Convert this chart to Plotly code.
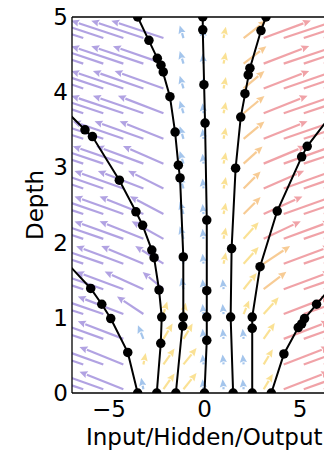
import math
import plotly.graph_objects as go

# ---------------- layout constants ----------------
W, H = 324, 450
ML, MR, MT, MB = 72, 0, 17, 57
X_RANGE = [-6.94, 6.26]
T_RANGE = [0, 5]
FONT = "DejaVu Sans"

x_ticks = [-5, 0, 5]
x_ticktext = ["−5", "0", "5"]
t_ticks = [0, 1, 2, 3, 4, 5]

# ---------------- vector field ----------------
field_x = [-7.4, -6.35, -5.3, -4.25, -3.2, -2.15, -1.1, -0.05, 1.0, 2.05, 3.1, 4.15, 5.2, 6.25, 7.3]
field_t = [0.05, 0.38, 0.72, 1.05, 1.38, 1.72, 2.05, 2.38, 2.72, 3.05, 3.38, 3.72, 4.05, 4.38, 4.72]
# horizontal component per row (bottom -> top), per column (left -> right)
field_u = [
    [-3.0, -3.0, -2.8, -2.5, -0.2, 0.7, 0.8, -0.1, -0.1, -0.1, 0.6, 2.6, 2.8, 3.0, 3.0],
    [-3.0, -3.0, -2.8, -2.5, 0.2, 0.7, 0.8, -0.1, -0.1, -0.1, 0.6, 2.6, 2.8, 3.0, 3.0],
    [-3.0, -3.0, -2.8, -2.6, -0.4, 0.6, 0.6, -0.1, -0.1, -0.1, 0.7, 2.6, 2.8, 3.0, 3.0],
    [-3.0, -3.0, -2.9, -2.6, -1.5, 0.3, 0.2, -0.1, -0.1, 0.4, 0.9, 2.6, 2.8, 3.0, 3.0],
    [-3.0, -3.0, -2.9, -2.7, -2.2, -1.2, -0.2, -0.1, -0.1, 0.8, 1.3, 2.7, 2.9, 3.0, 3.0],
    [-3.0, -3.0, -2.9, -2.7, -2.4, -1.6, -0.2, -0.1, 0.2, 0.9, 1.5, 2.7, 2.9, 3.0, 3.0],
    [-3.0, -3.0, -2.9, -2.8, -2.5, -1.8, -0.3, -0.1, 0.2, 0.9, 2.1, 2.7, 2.9, 3.0, 3.0],
    [-3.0, -3.0, -2.9, -2.8, -2.5, -1.9, -0.3, -0.1, 0.2, 1.0, 2.2, 2.8, 2.9, 3.0, 3.0],
    [-3.0, -3.0, -2.9, -2.8, -2.6, -2.0, -0.3, -0.1, 0.2, 1.0, 2.3, 2.8, 2.9, 3.0, 3.0],
    [-3.0, -3.0, -3.0, -2.9, -2.7, -2.3, -0.3, -0.1, 0.2, 1.1, 2.4, 2.8, 3.0, 3.0, 3.0],
    [-3.0, -3.0, -3.0, -2.9, -2.8, -2.5, -0.3, -0.1, 0.2, 1.2, 2.5, 2.9, 3.0, 3.0, 3.0],
    [-3.0, -3.0, -3.0, -3.0, -2.9, -2.6, -0.3, -0.1, 0.2, 1.2, 2.5, 2.9, 3.0, 3.0, 3.0],
    [-3.0, -3.0, -3.0, -3.0, -2.9, -2.8, -0.3, -0.1, 0.2, 1.2, 2.6, 2.9, 3.0, 3.0, 3.0],
    [-3.0, -3.0, -3.0, -3.0, -3.0, -2.9, -0.3, -0.1, 0.2, 1.3, 2.6, 3.0, 3.0, 3.0, 3.0],
    [-3.0, -3.0, -3.0, -3.0, -3.0, -3.0, -0.3, -0.1, 0.2, 1.3, 2.7, 3.0, 3.0, 3.0, 3.0],
]

# ---------------- trajectories ----------------
traj_a_x = [-3.5, -4.02, -4.91, -5.38, -5.96, -7.5]
traj_a_t = [0.0, 0.54, 0.99, 1.18, 1.39, 1.81]
traj_b_x = [-2.5, -2.29, -2.24, -2.38, -2.64, -2.76, -3.24, -3.59, -4.46, -5.87, -6.26, -7.5]
traj_b_t = [0.0, 0.66, 1.01, 1.37, 1.80, 1.90, 2.23, 2.41, 2.83, 3.41, 3.50, 3.81]
traj_c_x = [-1.5, -1.14, -1.11, -1.11, -1.28, -1.37, -1.54, -1.81, -2.16, -2.28, -2.47, -2.91, -3.5]
traj_c_t = [0.0, 0.89, 1.01, 1.81, 2.86, 3.03, 3.47, 3.94, 4.27, 4.36, 4.45, 4.69, 5.0]
traj_d_x = [0.0, 0.12, 0.12, 0.12, 0.12, 0.03, -0.03, -0.09, -0.09]
traj_d_t = [0.0, 0.70, 1.01, 1.36, 2.30, 3.59, 4.10, 4.83, 5.0]
traj_e_x = [1.5, 1.37, 1.42, 1.63, 1.90, 2.12, 2.29, 2.38, 2.96, 3.22]
traj_e_t = [0.0, 1.01, 1.92, 2.99, 3.67, 3.98, 4.23, 4.32, 4.82, 5.0]
traj_f_x = [2.5, 2.50, 2.50, 2.91, 3.81, 5.09, 5.38, 7.4]
traj_f_t = [0.0, 0.86, 1.01, 1.68, 2.42, 3.14, 3.28, 3.95]
traj_g_x = [3.5, 4.16, 4.91, 5.09, 5.24, 5.87, 7.4]
traj_g_t = [0.0, 0.52, 0.87, 0.92, 0.99, 1.18, 1.64]

trajectories = [
    (traj_a_x, traj_a_t), (traj_b_x, traj_b_t), (traj_c_x, traj_c_t),
    (traj_d_x, traj_d_t), (traj_e_x, traj_e_t), (traj_f_x, traj_f_t),
    (traj_g_x, traj_g_t),
]

# ---------------- styles ----------------
COLORS = {
    "purple": "rgba(120,95,205,0.58)",
    "blue": "rgba(90,150,220,0.55)",
    "yellow": "rgba(245,200,60,0.55)",
    "orange": "rgba(240,160,60,0.55)",
    "red": "rgba(228,85,95,0.55)",
}


def colour_of(u):
    if u <= -1.0:
        return "purple"
    if u <= 0.0:
        return "blue"
    if u <= 0.9:
        return "yellow"
    if u <= 1.8:
        return "orange"
    return "red"


plot_w = W - ML - MR
plot_h = H - MT - MB
sx = plot_w / (X_RANGE[1] - X_RANGE[0])
sy = plot_h / (T_RANGE[1] - T_RANGE[0])

LEN_BASE = 8.5    # px for a zero-horizontal arrow
LEN_PER_U = 15.5  # extra px per unit of |u|
HEAD_L = 8.0
HEAD_W = 3.6

shafts = {k: ([], []) for k in COLORS}
heads = {k: ([], []) for k in COLORS}

for i, t0 in enumerate(field_t):
    for j, x0 in enumerate(field_x):
        u = field_u[i][j]
        n = math.hypot(u, 1.0)
        L = LEN_BASE + LEN_PER_U * abs(u)
        ux, uy = u / n, 1.0 / n
        px_, py_ = -uy, ux
        tip = (L * ux, L * uy)
        base = (tip[0] - HEAD_L * ux, tip[1] - HEAD_L * uy)
        notch = (tip[0] - 0.85 * HEAD_L * ux, tip[1] - 0.85 * HEAD_L * uy)
        left = (base[0] + HEAD_W * px_, base[1] + HEAD_W * py_)
        right = (base[0] - HEAD_W * px_, base[1] - HEAD_W * py_)

        def d(p):
            return x0 + p[0] / sx, t0 + p[1] / sy

        c = colour_of(u)
        sxs, sts = shafts[c]
        a = d((0.0, 0.0))
        b = d(base)
        sxs += [a[0], b[0], None]
        sts += [a[1], b[1], None]
        hxs, hts = heads[c]
        for p in (tip, left, notch, right, tip):
            q = d(p)
            hxs.append(q[0])
            hts.append(q[1])
        hxs.append(None)
        hts.append(None)

fig = go.Figure()

for c in COLORS:
    xs, ts = shafts[c]
    if xs:
        fig.add_trace(go.Scatter(x=xs, y=ts, mode="lines",
                                 line=dict(color=COLORS[c], width=2.2),
                                 hoverinfo="skip", showlegend=False))
    xs, ts = heads[c]
    if xs:
        fig.add_trace(go.Scatter(x=xs, y=ts, mode="lines", fill="toself",
                                 fillcolor=COLORS[c], line=dict(width=0, color=COLORS[c]),
                                 hoverinfo="skip", showlegend=False))

for xs, ts in trajectories:
    fig.add_trace(go.Scatter(x=xs, y=ts, mode="lines+markers",
                             line=dict(color="black", width=2),
                             marker=dict(color="black", size=9.5),
                             hoverinfo="skip", showlegend=False))

fig.update_layout(
    width=W, height=H,
    margin=dict(l=ML, r=MR, t=MT, b=MB, pad=0),
    paper_bgcolor="white", plot_bgcolor="white",
    font=dict(family=FONT, size=23, color="black"),
    xaxis=dict(range=X_RANGE, tickvals=x_ticks, ticktext=x_ticktext,
               showgrid=False, zeroline=False, showline=False, ticks="",
               tickfont=dict(family=FONT, size=23, color="black")),
    yaxis=dict(range=T_RANGE, tickvals=t_ticks,
               showgrid=False, zeroline=False, showline=False, ticks="",
               ticklabelstandoff=3,
               tickfont=dict(family=FONT, size=23, color="black")),
    shapes=[
        dict(type="line", xref="paper", yref="paper", x0=0, x1=0, y0=0, y1=1,
             line=dict(color="black", width=1.3)),
        dict(type="line", xref="paper", yref="paper", x0=0, x1=1, y0=0, y1=0,
             line=dict(color="black", width=1.3)),
        dict(type="line", xref="paper", yref="paper", x0=0, x1=1, y0=1, y1=1,
             line=dict(color="black", width=1.3)),
    ],
    annotations=[
        dict(text="Input/Hidden/Output", xref="x", yref="paper", x=0,
             y=(393 - 437) / plot_h, xanchor="center", yanchor="middle",
             showarrow=False, font=dict(family=FONT, size=23, color="black")),
        dict(text="Depth", xref="paper", yref="paper", x=-(ML - 35) / plot_w,
             y=0.5, xanchor="center", yanchor="middle", textangle=-90,
             showarrow=False, font=dict(family=FONT, size=23, color="black")),
    ],
)

fig.write_html("out.html")
